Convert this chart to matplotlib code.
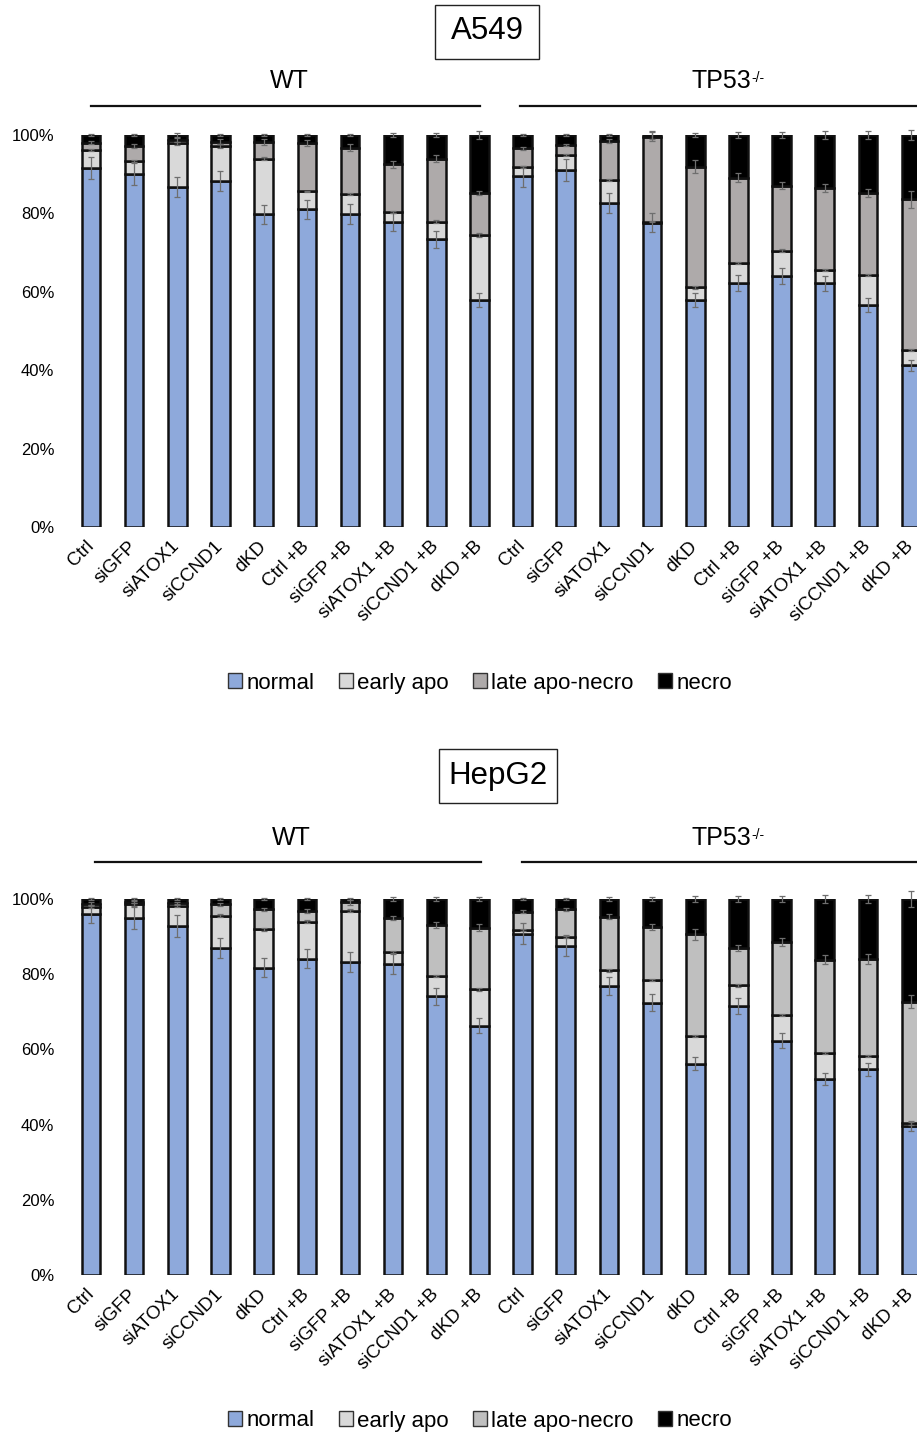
import matplotlib
matplotlib.use("Agg")
import matplotlib.pyplot as plt
from matplotlib.patches import Patch, Rectangle
from matplotlib.lines import Line2D
from matplotlib.text import Annotation
import numpy as np

plt.rcParams['font.family'] = ['Liberation Sans', 'DejaVu Sans']

# ---------------- data ----------------
categories = ["Ctrl", "siGFP", "siATOX1", "siCCND1", "dKD",
              "Ctrl +B", "siGFP +B", "siATOX1 +B", "siCCND1 +B", "dKD +B"] * 2
series_names = ["normal", "early apo", "late apo-necro", "necro"]

# A549 (WT: first 10, TP53-/-: last 10), percent
a549_normal = [91.5, 90.0, 86.7, 88.3, 79.8, 81.0, 79.9, 77.8, 73.4, 57.8,
               89.5, 91.0, 82.7, 77.6, 57.8, 62.2, 64.0, 62.2, 56.6, 41.2]
a549_early = [4.7, 3.4, 11.2, 8.9, 14.1, 4.6, 5.1, 2.5, 4.5, 16.8,
              2.3, 3.9, 5.8, 0.3, 3.3, 5.2, 6.5, 3.4, 7.7, 4.0]
a549_late = [1.8, 3.8, 0.8, 1.1, 4.3, 12.4, 11.8, 12.2, 16.1, 10.6,
             4.8, 2.5, 10.0, 21.7, 30.8, 21.7, 16.6, 20.9, 20.9, 38.4]
a549_necro = [2.0, 2.8, 1.3, 1.7, 1.8, 2.0, 3.2, 7.5, 6.0, 14.8,
              3.4, 2.6, 1.5, 0.4, 8.1, 10.9, 12.9, 13.5, 14.8, 16.4]
a549_normal_err = [2.8, 2.8, 2.6, 2.6, 2.4, 2.5, 2.5, 2.3, 2.2, 1.8,
                   2.7, 2.8, 2.6, 2.4, 1.8, 2.0, 2.0, 1.9, 1.7, 1.3]
a549_early_err = [0.3, 0.3, 0.4, 0.4, 0.4, 0.2, 0.3, 0.3, 0.3, 0.5,
                  0.3, 0.3, 0.3, 0.2, 0.3, 0.3, 0.3, 0.3, 0.3, 0.3]
a549_late_err = [0.35, 0.4, 0.6, 0.6, 0.7, 0.7, 0.8, 0.8, 0.9, 0.6,
                 0.4, 0.3, 0.5, 1.1, 1.7, 1.2, 0.9, 1.1, 1.1, 2.1]
a549_necro_err = [0.3, 0.2, 0.6, 0.3, 0.3, 0.3, 0.2, 0.6, 0.5, 1.1,
                  0.2, 0.3, 0.3, 1.1, 0.6, 0.8, 0.8, 0.9, 1.1, 1.3]

# HepG2
hepg2_normal = [96.0, 95.0, 92.8, 87.0, 81.7, 84.1, 83.2, 82.7, 74.1, 66.3,
                90.7, 87.5, 76.9, 72.4, 56.2, 71.5, 62.3, 52.1, 54.7, 39.6]
hepg2_early = [1.9, 3.6, 5.4, 8.5, 10.3, 9.9, 13.7, 3.2, 5.4, 9.7,
               1.1, 2.5, 4.1, 6.1, 7.4, 5.5, 6.8, 6.9, 3.5, 0.7]
hepg2_late = [0.9, 0.6, 0.7, 3.1, 5.3, 2.8, 2.2, 9.0, 13.6, 16.4,
              4.8, 7.3, 14.3, 14.1, 27.0, 9.9, 19.5, 24.8, 25.9, 32.4]
hepg2_necro = [1.2, 0.8, 1.1, 1.4, 2.7, 3.2, 0.9, 5.1, 6.9, 7.6,
               3.4, 2.7, 4.7, 7.4, 9.4, 13.1, 11.4, 16.2, 15.9, 27.3]
hepg2_normal_err = [2.4, 2.9, 2.9, 2.7, 2.5, 2.5, 2.6, 2.6, 2.2, 2.0,
                    2.8, 2.6, 2.3, 2.3, 1.8, 2.2, 2.0, 1.5, 1.8, 1.3]
hepg2_early_err = [0.3, 0.4, 0.3, 0.4, 0.4, 0.4, 0.4, 0.3, 0.3, 0.4,
                   0.3, 0.3, 0.3, 0.3, 0.3, 0.3, 0.3, 0.3, 0.3, 0.3]
hepg2_late_err = [0.3, 0.3, 0.3, 0.4, 0.4, 0.6, 0.6, 0.6, 0.8, 1.0,
                  0.4, 0.4, 0.6, 0.8, 1.5, 0.75, 1.1, 1.2, 1.4, 1.8]
hepg2_necro_err = [0.3, 0.3, 0.3, 0.3, 0.3, 0.3, 0.3, 0.5, 0.6, 0.6,
                   0.3, 0.2, 0.4, 0.5, 0.7, 0.9, 0.9, 1.1, 1.1, 2.0]

y_ticks = [0, 20, 40, 60, 80, 100]
y_tick_labels = ["0%", "20%", "40%", "60%", "80%", "100%"]

# ---------------- figure ----------------
W, H = 917, 1435
fig = plt.figure(figsize=(W / 100, H / 100), dpi=100)


def fx(px):
    return px / W


def fy(py):
    return 1 - py / H


blue = "#8EA9DB"
early_c = "#D9D9D9"
necro_c = "#000000"

step = 43.16
x0_px = 91.0
ax_left = x0_px - 0.5 * step
ax_width = 20 * step


def draw_chart(ax_top_px, ax_bot_px, vals, errs, late_c):
    ax = fig.add_axes([fx(ax_left), fy(ax_bot_px), fx(ax_width),
                       (ax_bot_px - ax_top_px) / H])
    x = np.arange(len(categories))
    colors = [blue, early_c, late_c, necro_c]
    bottom = np.zeros(len(categories))
    for v, e, c in zip(vals, errs, colors):
        v = np.array(v)
        ax.bar(x, v, bottom=bottom, width=0.43, color=c,
               edgecolor="#111111", linewidth=1.8, zorder=2)
        top = bottom + v
        cont = ax.errorbar(x, top, yerr=e, fmt="none", ecolor="#6e6e6e",
                           elinewidth=0.9, capsize=2.3, capthick=0.9, zorder=3)
        for child in cont.get_children():
            child.set_clip_on(False)
        bottom = top
    ax.set_xlim(-0.5, len(categories) - 0.5)
    ax.set_ylim(0, 100)
    ax.set_yticks(y_ticks)
    ax.set_yticklabels(y_tick_labels, fontsize=12)
    ax.set_xticks(x)
    ax.set_xticklabels(categories, fontsize=13.5, rotation=45, ha="right",
                       va="center", rotation_mode="anchor")
    ax.tick_params(axis="y", length=0, pad=11)
    ax.tick_params(axis="x", length=0, pad=12)
    for s in ax.spines.values():
        s.set_visible(False)
    ax.patch.set_alpha(0)
    return ax


def decorations(title, box, title_y, grp_y, line_y, wt_x, wt_line, tp_x, tp_line):
    bx0, bx1, by0, by1 = box
    fig.add_artist(Rectangle((fx(bx0), fy(by1)), fx(bx1 - bx0), (by1 - by0) / H,
                             transform=fig.transFigure, fill=False,
                             edgecolor="#222222", linewidth=1.0))
    fig.text(fx((bx0 + bx1) / 2), fy(title_y), title, fontsize=22.5,
             ha="center", va="center")
    fig.text(fx(wt_x), fy(grp_y), "WT", fontsize=18, ha="center", va="center")
    t = fig.text(fx(tp_x), fy(grp_y), "TP53", fontsize=18, ha="center", va="center")
    sup = Annotation("-/-", xy=(1.0, 1.0), xycoords=t, xytext=(0.5, -1.5),
                     textcoords="offset points", fontsize=10, ha="left", va="top",
                     annotation_clip=False)
    fig.add_artist(sup)
    fig.add_artist(Line2D([fx(wt_line[0]), fx(wt_line[1])], [fy(line_y)] * 2,
                          transform=fig.transFigure, color="#111111", linewidth=1.6))
    fig.add_artist(Line2D([fx(tp_line[0]), fx(tp_line[1])], [fy(line_y)] * 2,
                          transform=fig.transFigure, color="#111111", linewidth=1.6))


ax1 = draw_chart(135, 527,
                 [a549_normal, a549_early, a549_late, a549_necro],
                 [a549_normal_err, a549_early_err, a549_late_err, a549_necro_err],
                 "#AEAAAA")
ax2 = draw_chart(899, 1275,
                 [hepg2_normal, hepg2_early, hepg2_late, hepg2_necro],
                 [hepg2_normal_err, hepg2_early_err, hepg2_late_err, hepg2_necro_err],
                 "#BFBFBF")

decorations("A549", (435, 539, 5, 59), 31, 81, 106, 289, (91, 480), 721, (520, 917))
decorations("HepG2", (439, 557, 749, 803), 776, 838, 862, 291, (95, 481), 721, (522, 917))


def legend_at(late_c, y_px):
    handles = [Patch(facecolor=c, edgecolor="#333333", linewidth=1.0)
               for c in [blue, early_c, late_c, necro_c]]
    fig.legend(handles, series_names, loc="center", ncol=4, frameon=False,
               bbox_to_anchor=(fx(480), fy(y_px)), fontsize=16,
               handlelength=0.62, handleheight=0.62, handletextpad=0.2,
               columnspacing=1.1, borderaxespad=0)


legend_at("#AEAAAA", 683)
legend_at("#BFBFBF", 1421)

fig.savefig("out.png", dpi=100)
